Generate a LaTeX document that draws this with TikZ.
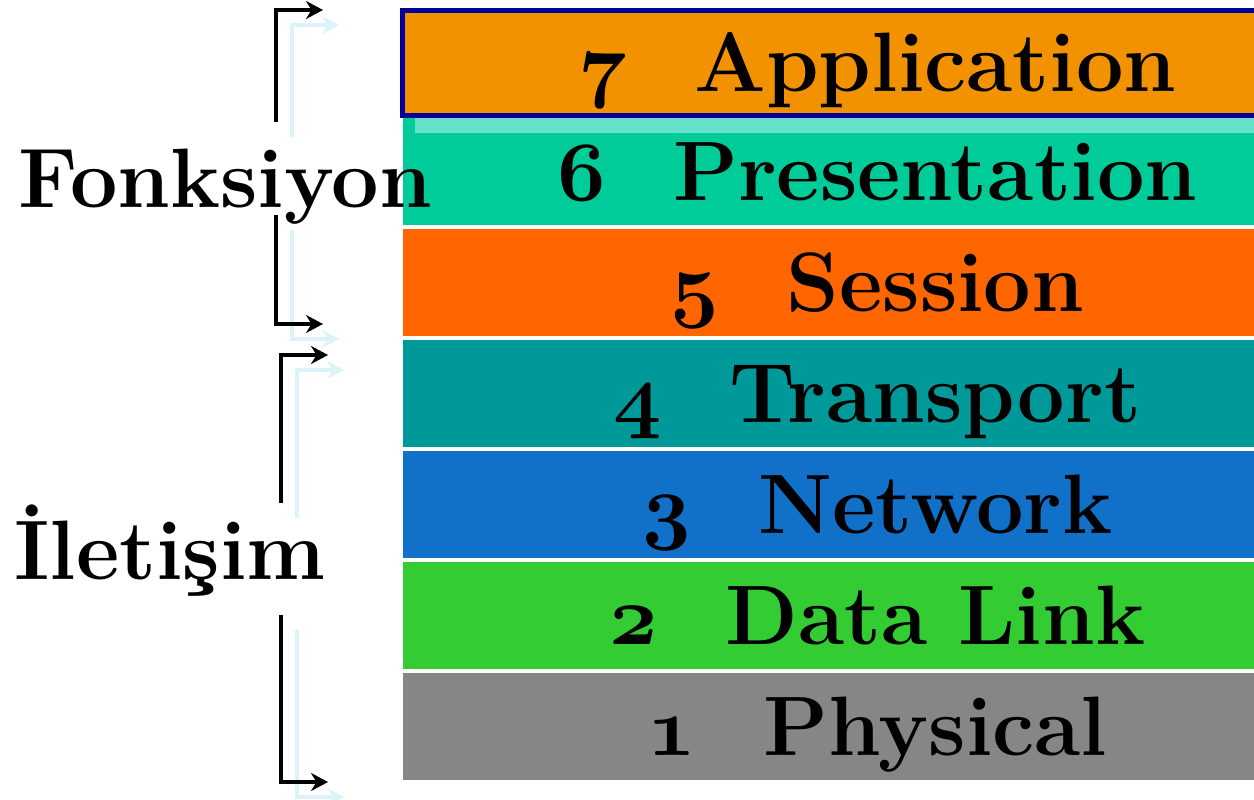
\documentclass[tikz,border=0pt]{standalone}
\usepackage{fontspec}
\usetikzlibrary{positioning}
\usetikzlibrary{arrows.meta}

\definecolor{appcol}{RGB}{243,146,0}
\definecolor{appedge}{RGB}{0,0,153}
\definecolor{prescol}{RGB}{0,204,153}
\definecolor{sesscol}{RGB}{255,102,0}
\definecolor{transcol}{RGB}{0,153,153}
\definecolor{netcol}{RGB}{17,112,200}
\definecolor{linkcol}{RGB}{51,204,51}
\definecolor{physcol}{RGB}{134,134,134}
\definecolor{ghostblue}{RGB}{220,243,249}
\definecolor{ghostteal}{RGB}{102,224,200}

\DeclareFontFamily{OML}{osfnum}{}
\DeclareFontShape{OML}{osfnum}{b}{it}{<-> cmmib10}{}
\newcommand{\lnum}[1]{{\usefont{OML}{osfnum}{b}{it}#1}}

\begin{document}
\begin{tikzpicture}
		[x=0.02cm, y=-0.02cm,
		 layer/.style={minimum width=19cm, minimum height=2.14cm, inner sep=0pt, outer sep=0pt,
		   text height=33pt, text depth=0pt, font=\fontsize{48}{58}\selectfont\bfseries},
		 side/.style={font=\fontsize{48}{58}\selectfont\bfseries, inner sep=0pt},
		 bracket/.style={line width=0.095cm, -{Stealth[length=0.34cm,width=0.36cm]}},
		 ghost/.style={bracket, draw=ghostblue, -{Stealth[length=0.34cm,width=0.36cm,fill=ghostblue]}}]
		\useasboundingbox (0,0) rectangle (1254,800);
		% bracket ends
		\coordinate (fa) at (276,122);
		\coordinate (fA) at (323,10);
		\coordinate (fb) at (276,215);
		\coordinate (fB) at (323,324);
		\coordinate (ia) at (281,503);
		\coordinate (iA) at (328,355);
		\coordinate (ib) at (281,615);
		\coordinate (iB) at (328,782);
		% pale copies
		\draw[ghost] ([shift={(16,15)}]fa) |- ([shift={(16,15)}]fA);
		\draw[ghost] ([shift={(16,15)}]fb) |- ([shift={(16,15)}]fB);
		\draw[ghost] ([shift={(16,15)}]ia) |- ([shift={(16,15)}]iA);
		\draw[ghost] ([shift={(16,15)}]ib) |- ([shift={(16,15)}]iB);
		% layers
		\node[layer, fill=appcol, draw=appedge, line width=0.1cm, outer sep=0.05cm,
		  minimum height=2.1cm, anchor=north west] (l7) at (400,8) {\lnum{7}\hspace{1.35cm}Application};
		\node[layer, fill=prescol, below=0cm of l7] (l6) {\lnum{6}\hspace{1.35cm}Presentation};
		\node[layer, fill=sesscol, below=0.08cm of l6] (l5) {\lnum{5}\hspace{1.35cm}Session};
		\node[layer, fill=transcol, below=0.08cm of l5] (l4) {\lnum{4}\hspace{1.35cm}Transport};
		\node[layer, fill=netcol, below=0.08cm of l4] (l3) {\lnum{3}\hspace{1.35cm}Network};
		\node[layer, fill=linkcol, below=0.08cm of l3] (l2) {\lnum{2}\hspace{1.35cm}Data Link};
		\node[layer, fill=physcol, below=0.08cm of l2] (l1) {\lnum{1}\hspace{1.35cm}Physical};
		\fill[ghostteal] (415,118) rectangle (1254,133);
		% brackets
		\draw[bracket] (fa) |- (fA);
		\draw[bracket] (fb) |- (fB);
		\draw[bracket] (ia) |- (iA);
		\draw[bracket] (ib) |- (iB);
		\node[side, anchor=base] (fonk) at (225,208) {Fonksiyon};
		\node[side, anchor=base] (ilet) at (170,579) {İletişim};
	\end{tikzpicture}
\end{document}
